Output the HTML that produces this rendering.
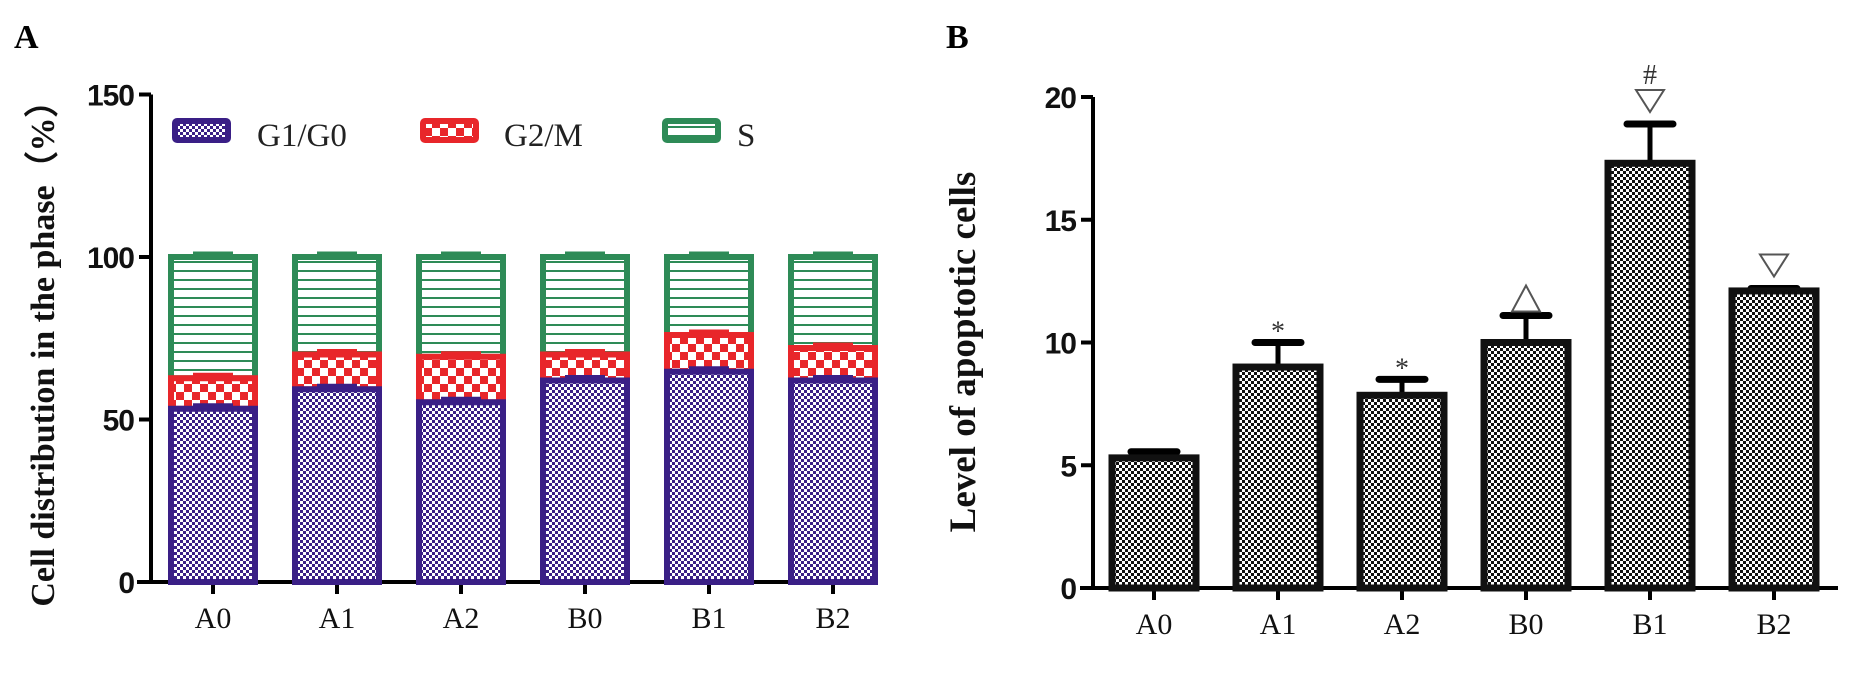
<!DOCTYPE html>
<html><head><meta charset="utf-8">
<style>
html,body{margin:0;padding:0;background:#fff;}
svg{display:block;}
.tick{font-family:"Liberation Sans",sans-serif;font-weight:bold;font-size:30px;fill:#111;letter-spacing:-1px;}
.cat{font-family:"Liberation Serif",serif;font-size:30px;fill:#111;}
.ttl{font-family:"Liberation Serif",serif;font-weight:bold;font-size:34px;fill:#111;}
.ttlb{font-family:"Liberation Serif",serif;font-weight:bold;font-size:37px;fill:#111;}
.leg{font-family:"Liberation Serif",serif;font-size:33px;fill:#222;}
.pl{font-family:"Liberation Serif",serif;font-weight:bold;font-size:34px;fill:#000;}
.ann{font-family:"Liberation Serif",serif;font-size:28px;fill:#333;}
</style></head>
<body>
<svg id="fig" width="1857" height="677" viewBox="0 0 1857 677" xmlns="http://www.w3.org/2000/svg">
<defs>
<pattern id="pPurple" width="6" height="6" patternUnits="userSpaceOnUse">
<rect width="6" height="6" fill="#fff"/><rect width="3" height="3" fill="#3a1f86"/><rect x="3" y="3" width="3" height="3" fill="#3a1f86"/></pattern>
<pattern id="pRed" width="16" height="16" patternUnits="userSpaceOnUse">
<rect width="16" height="16" fill="#e8262a"/><rect width="8" height="8" fill="#fff"/><rect x="8" y="8" width="8" height="8" fill="#fff"/></pattern>
<pattern id="pGreen" width="8" height="9" patternUnits="userSpaceOnUse">
<rect width="8" height="9" fill="#fff"/><rect y="0" width="8" height="2" fill="#2e8b57"/></pattern>
<pattern id="pGrey" width="6" height="6" patternUnits="userSpaceOnUse">
<rect width="6" height="6" fill="#fff"/><rect width="3" height="3" fill="#111"/><rect x="3" y="3" width="3" height="3" fill="#111"/></pattern>
</defs>
<text class="pl" x="14" y="48">A</text>
<text class="pl" x="946" y="48">B</text>
<g id="chartA"></g>
<g id="chartB"></g>
</svg>
<script>
const categories = ["A0","A1","A2","B0","B1","B2"];
const g1g0 = [53.3, 59.3, 55.3, 62, 64.7, 62];
const g2m = [9.4, 10.7, 14, 8, 11.3, 10];
const sPhase = [37.3, 30, 30.7, 30, 24, 28];
const ticksA = [0, 50, 100, 150];
const apoptosis = [5.3, 9.0, 7.85, 10.0, 17.3, 12.1];
const apoptosisErr = [0.25, 1.0, 0.65, 1.1, 1.6, 0.1];
const marks = ["", "*", "*", "up", "#down", "down"];
const ticksB = [0, 5, 10, 15, 20];
const NS = "http://www.w3.org/2000/svg";
function mk(p, tag, at){const e=document.createElementNS(NS,tag);for(const k in at)e.setAttribute(k,at[k]);p.appendChild(e);return e;}

// Panel A
const A = document.getElementById('chartA');
const yA = v => 582 - v * 3.25;
const xA = i => 213 + i * 124;
const bwA = 84;
mk(A,'line',{x1:151,y1:yA(150),x2:151,y2:582,stroke:'#000','stroke-width':4});
mk(A,'line',{x1:137,y1:582,x2:862,y2:582,stroke:'#000','stroke-width':4});
ticksA.forEach(t=>{
  const l=mk(A,'line',{x1:139,y1:yA(t),x2:151,y2:yA(t),stroke:'#000','stroke-width':4});
  
  
  const tx=mk(A,'text',{class:'tick',x:134,y:yA(t)+11,'text-anchor':'end'});tx.textContent=t;
  
  
});
categories.forEach((c,i)=>{
  const x=xA(i);
  mk(A,'line',{x1:x,y1:582,x2:x,y2:594,stroke:'#000','stroke-width':4});
  const t=mk(A,'text',{class:'cat',x:x,y:628,'text-anchor':'middle'});t.textContent=c;
  
  
  const segs=[[0,g1g0[i],'url(#pPurple)','#3a1f86','bar-g1g0'],[g1g0[i],g1g0[i]+g2m[i],'url(#pRed)','#e8262a','bar-g2m'],[g1g0[i]+g2m[i],g1g0[i]+g2m[i]+sPhase[i],'url(#pGreen)','#2e8b57','bar-s']];
  segs.slice().reverse().forEach(s=>{
    const r=mk(A,'rect',{x:x-bwA/2,y:yA(s[1]),width:bwA,height:yA(s[0])-yA(s[1]),fill:s[2],stroke:s[3],'stroke-width':6});
    
    
    mk(A,'line',{x1:x-20,y1:yA(s[1])-3,x2:x+20,y2:yA(s[1])-3,stroke:s[3],'stroke-width':5});
  });
});
const yt=mk(A,'text',{class:'ttl',transform:'translate(54,345) rotate(-90)','text-anchor':'middle'});
yt.textContent='Cell distribution in the phase（%）';


[['url(#pPurple)','#3a1f86',172,'G1/G0',257],['url(#pRed)','#e8262a',420,'G2/M',504],['url(#pGreen)','#2e8b57',662,'S',737]].forEach(L=>{
  const g=mk(A,'g',{});
  
  
  mk(g,'rect',{x:L[2]+3,y:121,width:53,height:19,fill:L[0],stroke:L[1],'stroke-width':6,rx:2});
  const t=mk(g,'text',{class:'leg',x:L[4],y:146});t.textContent=L[3];
});

// Panel B
const B = document.getElementById('chartB');
const yB = v => 588 - v * 24.55;
const xB = i => 1154 + i * 124;
const bwB = 84;
mk(B,'line',{x1:1093,y1:yB(20),x2:1093,y2:588,stroke:'#000','stroke-width':4});
mk(B,'line',{x1:1080,y1:588,x2:1838,y2:588,stroke:'#000','stroke-width':4});
ticksB.forEach(t=>{
  const l=mk(B,'line',{x1:1081,y1:yB(t),x2:1093,y2:yB(t),stroke:'#000','stroke-width':4});
  
  
  const tx=mk(B,'text',{class:'tick',x:1076,y:yB(t)+11,'text-anchor':'end'});tx.textContent=t;
  
  
});
categories.forEach((c,i)=>{
  const x=xB(i), v=apoptosis[i], e=apoptosisErr[i];
  mk(B,'line',{x1:x,y1:588,x2:x,y2:600,stroke:'#000','stroke-width':4});
  const t=mk(B,'text',{class:'cat',x:x,y:634,'text-anchor':'middle'});t.textContent=c;
  
  
  mk(B,'line',{x1:x,y1:yB(v),x2:x,y2:yB(v+e),stroke:'#000','stroke-width':5});
  mk(B,'line',{x1:x-23,y1:yB(v+e),x2:x+23,y2:yB(v+e),stroke:'#000','stroke-width':7,'stroke-linecap':'round'});
  const r=mk(B,'rect',{x:x-bwB/2,y:yB(v),width:bwB,height:yB(0)-yB(v),fill:'url(#pGrey)',stroke:'#111','stroke-width':7});
  
  
  const top=yB(v+e), m=marks[i];
  if(m==='*'){const a=mk(B,'text',{class:'ann',x:x,y:top-2,'text-anchor':'middle'});a.textContent='*';}
  if(m==='up'){mk(B,'polygon',{points:`${x-14},${top-4} ${x+14},${top-4} ${x},${top-30}`,fill:'none',stroke:'#555','stroke-width':2});}
  if(m==='down'||m==='#down'){mk(B,'polygon',{points:`${x-14},${top-34} ${x+14},${top-34} ${x},${top-12}`,fill:'none',stroke:'#555','stroke-width':2});}
  if(m==='#down'){const a=mk(B,'text',{class:'ann',x:x,y:top-40,'text-anchor':'middle'});a.textContent='#';}
});
const ytb=mk(B,'text',{class:'ttlb',transform:'translate(975,352) rotate(-90)','text-anchor':'middle'});
ytb.textContent='Level of apoptotic cells';


</script>
</body></html>
